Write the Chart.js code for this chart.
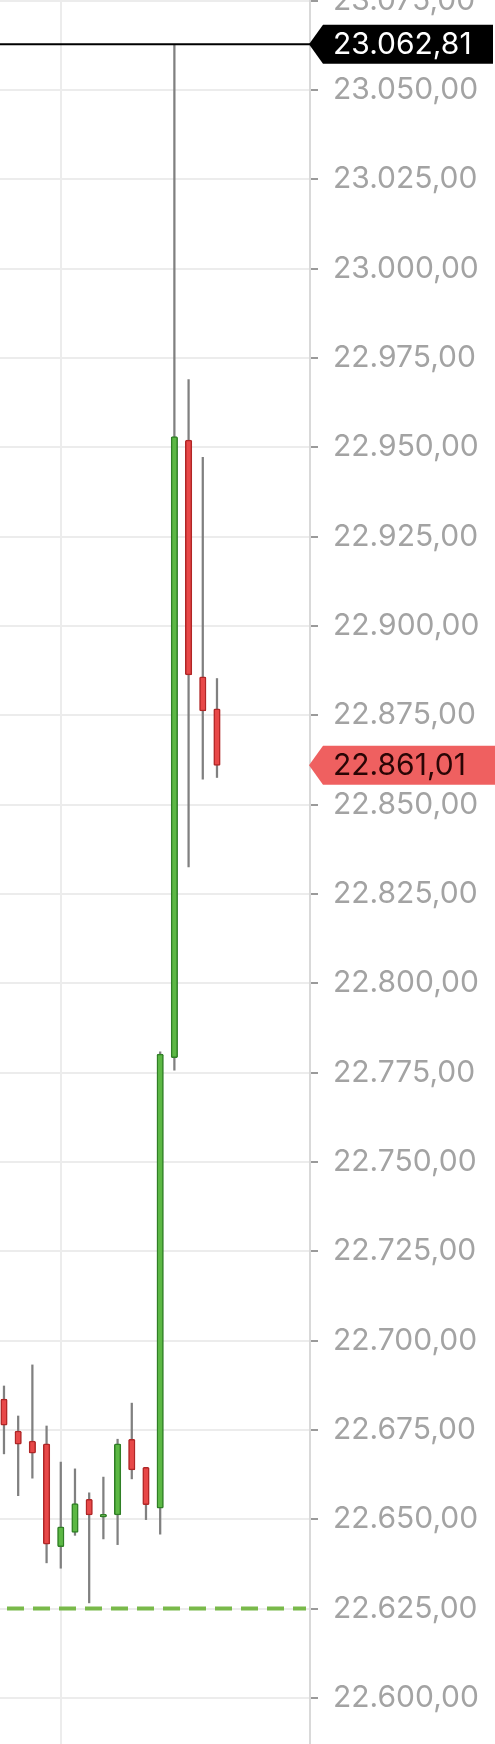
<!DOCTYPE html>
<html>
<head>
<meta charset="utf-8">
<script src="https://cdn.jsdelivr.net/npm/chart.js@4.4.1/dist/chart.umd.min.js"></script>
<style>
  html, body { margin: 0; padding: 0; background: #fff; }
  #wrap { width: 495px; height: 1744px; }
</style>
</head>
<body>
<div id="wrap"><canvas id="candles" width="495" height="1744"></canvas></div>
<script>
// Kerzen (Minutenwerte), von links nach rechts
const opens  = [22683.6, 22674.7, 22671.9, 22671.1, 22642.3, 22646.3, 22655.6, 22650.6,
                22651.2, 22672.4, 22664.5, 22653.1, 22779.2, 22952.0, 22885.8, 22876.8];
const closes = [22676.3, 22671.0, 22668.5, 22643.0, 22647.9, 22654.4, 22651.2, 22651.4,
                22671.1, 22663.8, 22654.1, 22780.2, 22953.0, 22886.3, 22876.2, 22861.01];
const highs  = [22687.3, 22678.9, 22693.2, 22676.1, 22666.0, 22664.1, 22657.4, 22661.8,
                22672.4, 22682.5, 22664.5, 22780.8, 23062.81, 22969.0, 22947.2, 22885.3];
const lows   = [22668.3, 22656.6, 22661.5, 22637.8, 22636.3, 22645.5, 22626.6, 22644.5,
                22642.9, 22661.3, 22649.9, 22645.8, 22775.7, 22832.6, 22857.1, 22857.6];

const priceTicks = [22600, 22625, 22650, 22675, 22700, 22725, 22750, 22775, 22800, 22825,
                    22850, 22875, 22900, 22925, 22950, 22975, 23000, 23025, 23050, 23075];
const timeGrid = [4];          // einzige sichtbare Zeit-Gitterlinie
const dayHigh = 23062.81;
const lastPrice = 22861.01;
const refLevel = 22625;

const UP_FILL = '#5cb844', UP_EDGE = '#2f7f25';
const DN_FILL = '#e84848', DN_EDGE = '#b02626';
const FONT = '30px Inter, "Open Sans", sans-serif';

function fmtPrice(v) {
  const [i, d] = Number(v).toFixed(2).split('.');
  return i.replace(/\B(?=(\d{3})+(?!\d))/g, '.') + ',' + d;
}

const isUp = opens.map((o, i) => closes[i] >= o);
const bodyData = opens.map((o, i) => ({ x: i, y: [o, closes[i]] }));
const wickData = lows.map((l, i) => ({ x: i, y: [l, highs[i]] }));

function drawTag(c, x0, yc, x1, bg, fg, text, textX) {
  const half = 19.5;
  c.fillStyle = bg;
  c.beginPath();
  c.moveTo(x0, yc);
  c.lineTo(x0 + 14, yc - half);
  c.lineTo(x1, yc - half);
  c.lineTo(x1, yc + half);
  c.lineTo(x0 + 14, yc + half);
  c.closePath();
  c.fill();
  c.fillStyle = fg;
  c.font = FONT;
  c.textAlign = 'left';
  c.textBaseline = 'middle';
  c.fillText(text, textX, yc + 1);
}

const overlay = {
  id: 'overlay',
  beforeDatasetsDraw(chart) {
    // die App schneidet die Achsenbeschriftung rechts ab
    const c = chart.ctx;
    c.save();
    c.fillStyle = '#fff';
    c.fillRect(481, 0, chart.width - 481, chart.height);
    c.restore();
  },
  afterDraw(chart) {
    const c = chart.ctx;
    const a = chart.chartArea;
    const y = chart.scales.y;
    const textX = y.left + y.options.grid.tickLength + y.options.ticks.padding;
    c.save();

    // Tageshoch-Linie
    const yh = y.getPixelForValue(dayHigh);
    c.strokeStyle = '#000';
    c.lineWidth = 2;
    c.beginPath();
    c.moveTo(a.left, yh);
    c.lineTo(a.right, yh);
    c.stroke();

    // gestrichelte Referenzlinie
    const yr = y.getPixelForValue(refLevel);
    c.strokeStyle = '#79b94a';
    c.lineWidth = 4;
    c.setLineDash([17, 9]);
    c.lineDashOffset = 19;
    c.beginPath();
    c.moveTo(a.left, yr);
    c.lineTo(a.right - 4, yr);
    c.stroke();
    c.setLineDash([]);

    drawTag(c, a.right - 1, yh, chart.width - 2, '#000', '#fff', fmtPrice(dayHigh), textX);
    drawTag(c, a.right - 1, y.getPixelForValue(lastPrice), chart.width, '#ef6060', '#2a0505', fmtPrice(lastPrice), textX);
    c.restore();
  }
};

new Chart(document.getElementById('candles'), {
  type: 'bar',
  data: {
    datasets: [
      {
        label: 'Docht',
        data: wickData,
        backgroundColor: '#808080',
        barThickness: 1.6,
        grouped: false,
        order: 2
      },
      {
        label: 'Kerze',
        data: bodyData,
        backgroundColor: isUp.map(u => u ? UP_FILL : DN_FILL),
        borderColor: isUp.map(u => u ? UP_EDGE : DN_EDGE),
        borderWidth: 1.5,
        borderRadius: 1.5,
        borderSkipped: false,
        barThickness: 6.5,
        grouped: false,
        order: 1
      }
    ]
  },
  options: {
    responsive: false,
    animation: false,
    devicePixelRatio: 1,
    layout: { padding: 0 },
    plugins: { legend: { display: false }, tooltip: { enabled: false } },
    scales: {
      x: {
        type: 'linear',
        min: -0.28,
        max: 21.55,
        offset: false,
        afterBuildTicks: s => { s.ticks = timeGrid.map(v => ({ value: v })); },
        ticks: { display: false },
        grid: { color: '#ececec', lineWidth: 2, drawTicks: false, offset: false },
        border: { display: false }
      },
      y: {
        position: 'right',
        min: 22587.1,
        max: 23075.2,
        afterBuildTicks: s => { s.ticks = priceTicks.map(v => ({ value: v })); },
        afterFit: s => { s.width = 185; s.paddingTop = 0; s.paddingBottom = 0; },
        ticks: {
          padding: 15,
          color: '#a3a3a3',
          font: { family: 'Inter, "Open Sans", sans-serif', size: 30 },
          callback: v => fmtPrice(v)
        },
        grid: { color: '#ececec', lineWidth: 2, tickColor: '#9a9a9a', tickLength: 8 },
        border: { color: '#d9d9d9', width: 2 }
      }
    }
  },
  plugins: [overlay]
});
</script>
</body>
</html>
